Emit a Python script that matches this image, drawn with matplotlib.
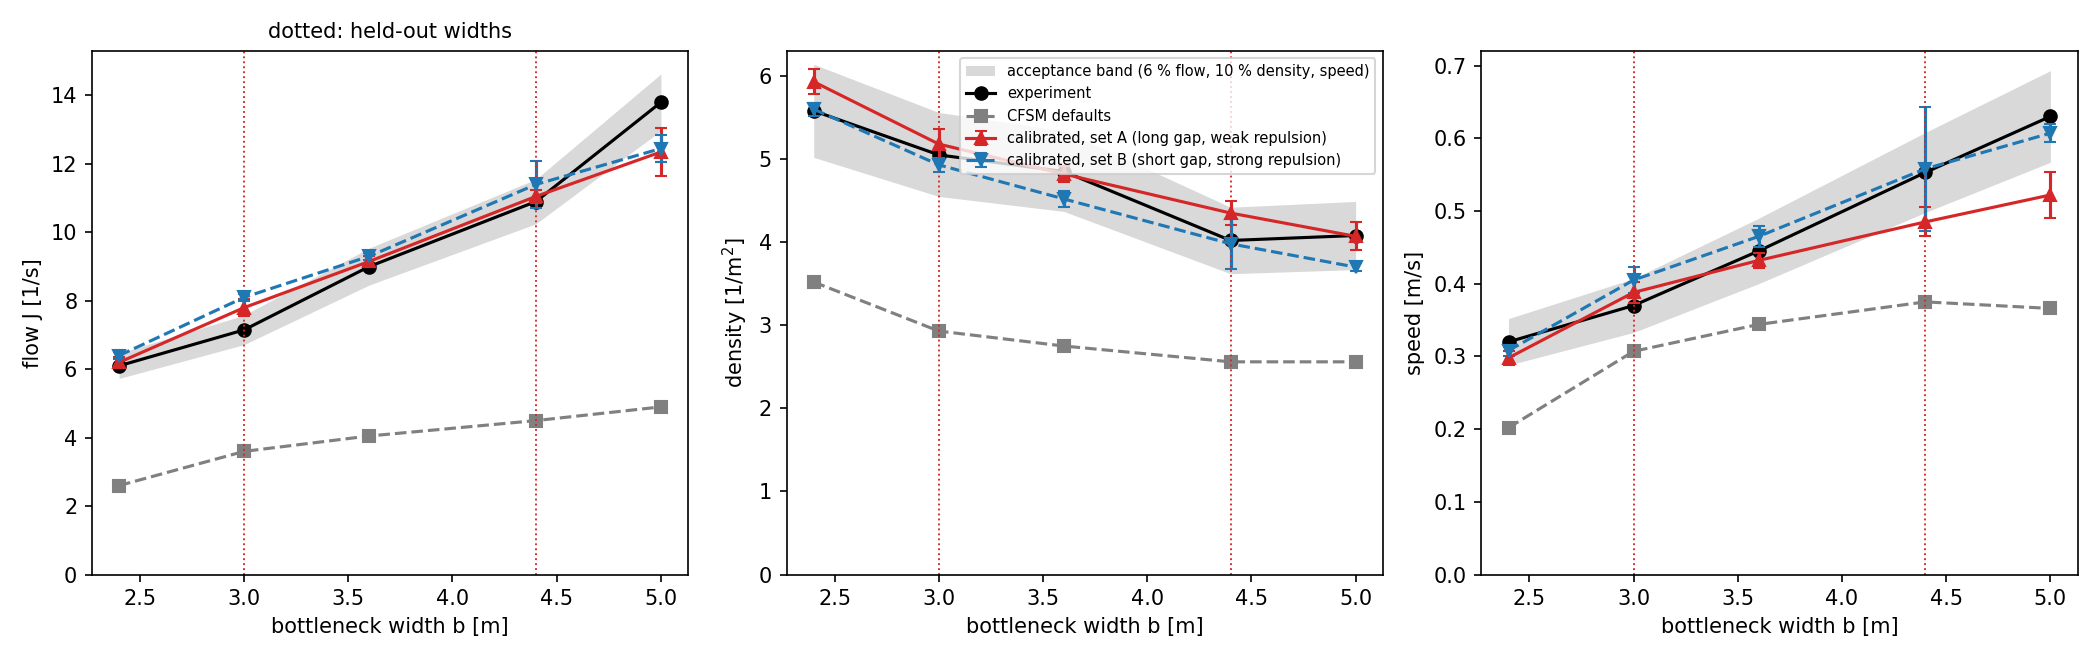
import matplotlib
matplotlib.use("Agg")
import matplotlib.pyplot as plt

widths = [2.4, 3.0, 3.6, 4.4, 5.0]
heldout = [3.0, 4.4]

flow_exp = [6.1, 7.15, 9.0, 10.9, 13.8]
flow_lo = [5.73, 6.72, 8.46, 10.25, 12.97]
flow_hi = [6.47, 7.58, 9.54, 11.55, 14.63]
flow_cfsm = [2.6, 3.6, 4.05, 4.5, 4.9]
flow_A = [6.2, 7.8, 9.15, 11.05, 12.35]
flow_A_err = [0.15, 0.25, 0.15, 0.2, 0.7]
flow_B = [6.4, 8.1, 9.3, 11.4, 12.45]
flow_B_err = [0.1, 0.1, 0.1, 0.7, 0.4]

dens_exp = [5.58, 5.05, 4.85, 4.02, 4.08]
dens_lo = [5.02, 4.55, 4.37, 3.62, 3.67]
dens_hi = [6.14, 5.56, 5.34, 4.42, 4.49]
dens_cfsm = [3.52, 2.93, 2.75, 2.56, 2.56]
dens_A = [5.93, 5.18, 4.82, 4.35, 4.07]
dens_A_err = [0.15, 0.18, 0.1, 0.14, 0.17]
dens_B = [5.6, 4.93, 4.52, 3.98, 3.7]
dens_B_err = [0.08, 0.08, 0.1, 0.3, 0.05]

speed_exp = [0.32, 0.37, 0.445, 0.553, 0.63]
speed_lo = [0.288, 0.333, 0.40, 0.498, 0.567]
speed_hi = [0.352, 0.407, 0.49, 0.608, 0.693]
speed_cfsm = [0.202, 0.307, 0.344, 0.375, 0.366]
speed_A = [0.298, 0.388, 0.432, 0.485, 0.522]
speed_A_err = [0.01, 0.015, 0.01, 0.02, 0.032]
speed_B = [0.308, 0.405, 0.465, 0.558, 0.607]
speed_B_err = [0.008, 0.018, 0.015, 0.085, 0.012]

panels = [
    ("flow J [1/s]", flow_exp, flow_lo, flow_hi, flow_cfsm, flow_A, flow_A_err, flow_B, flow_B_err, 15.3),
    ("density [1/m$^2$]", dens_exp, dens_lo, dens_hi, dens_cfsm, dens_A, dens_A_err, dens_B, dens_B_err, 6.3),
    ("speed [m/s]", speed_exp, speed_lo, speed_hi, speed_cfsm, speed_A, speed_A_err, speed_B, speed_B_err, 0.72),
]

fig, axes = plt.subplots(1, 3, figsize=(14, 4.4), dpi=150)
for i, (ax, p) in enumerate(zip(axes, panels)):
    ylabel, exp, lo, hi, cf, A, Ae, B, Be, ymax = p
    ax.fill_between(widths, lo, hi, color="#d9d9d9", lw=0,
                    label="acceptance band (6 % flow, 10 % density, speed)")
    ax.plot(widths, exp, "o-", color="black", ms=6, lw=1.5, label="experiment")
    ax.plot(widths, cf, "s--", color="grey", ms=6, lw=1.5, label="CFSM defaults")
    ax.errorbar(widths, A, yerr=Ae, fmt="^-", color="#d62728", ms=6, lw=1.5, capsize=3,
                label="calibrated, set A (long gap, weak repulsion)")
    ax.errorbar(widths, B, yerr=Be, fmt="v--", color="#1f77b4", ms=6, lw=1.5, capsize=3,
                label="calibrated, set B (short gap, strong repulsion)")
    for h in heldout:
        ax.axvline(h, color="#d62728", ls=":", lw=0.9)
    ax.set_ylim(0, ymax)
    ax.set_xlabel("bottleneck width b [m]")
    ax.set_ylabel(ylabel)
    if i == 0:
        ax.set_title("dotted: held-out widths", fontsize=10)
    if i == 1:
        ax.legend(loc="upper right", fontsize=7)

plt.tight_layout()
fig.savefig("out.png")
